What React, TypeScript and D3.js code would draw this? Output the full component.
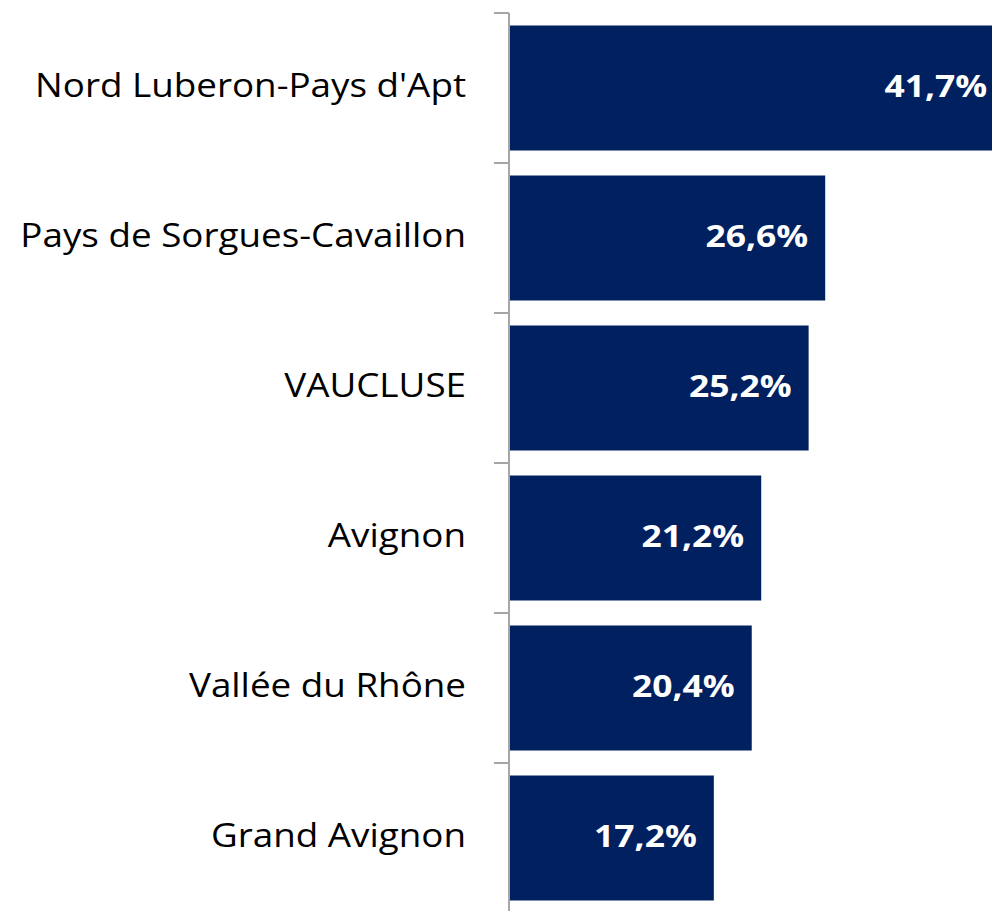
import React from "react";
import * as d3 from "d3";

const categories = [
  "Nord Luberon-Pays d'Apt",
  "Pays de Sorgues-Cavaillon",
  "VAUCLUSE",
  "Avignon",
  "Vallée du Rhône",
  "Grand Avignon",
];
const values = [41.7, 26.6, 25.2, 21.2, 20.4, 17.2];

const W = 992;
const H = 911;
const axisX = 509;
const top = 13;
const bandH = 150;

export default function App() {
  const y = d3
    .scaleBand<string>()
    .domain(categories)
    .range([top, top + bandH * categories.length])
    .paddingInner(25 / 150)
    .paddingOuter(12.5 / 150);
  const x = d3.scaleLinear().domain([0, 10]).range([axisX + 1, axisX + 1 + 118.5]);
  const fmt = (v: number) => v.toFixed(1).replace(".", ",") + "%";
  const ticks = d3.range(categories.length + 1).map((i) => top + i * bandH);
  return (
    <svg
      width={W}
      height={H}
      style={{ position: "absolute", left: 0, top: 0 }}
      fontFamily="'Open Sans', sans-serif"
    >
      <rect width={W} height={H} fill="#fff" />
      {categories.map((c, i) => {
        const cy = y(c)! + y.bandwidth() / 2 + 9;
        return (
          <g key={c}>
            <rect
              x={x(0)}
              y={y(c)!}
              width={x(values[i]) - x(0)}
              height={y.bandwidth()}
              fill="#002060"
            />
            <text
              transform={`translate(${x(values[i]) - 17},${cy}) scale(1.2,1)`}
              textAnchor="end"
              fill="#fff"
              fontWeight="bold"
              fontSize={29.5}
            >
              {fmt(values[i])}
            </text>
            <text
              transform={`translate(466,${cy}) scale(1.15,1)`}
              textAnchor="end"
              fill="#000"
              fontSize={32}
            >
              {c}
            </text>
          </g>
        );
      })}
      <line x1={axisX} x2={axisX} y1={top} y2={H} stroke="#a6a6a6" strokeWidth={2} />
      {ticks.map((t) => (
        <line key={t} x1={494} x2={axisX} y1={t} y2={t} stroke="#a6a6a6" strokeWidth={2} />
      ))}
    </svg>
  );
}
